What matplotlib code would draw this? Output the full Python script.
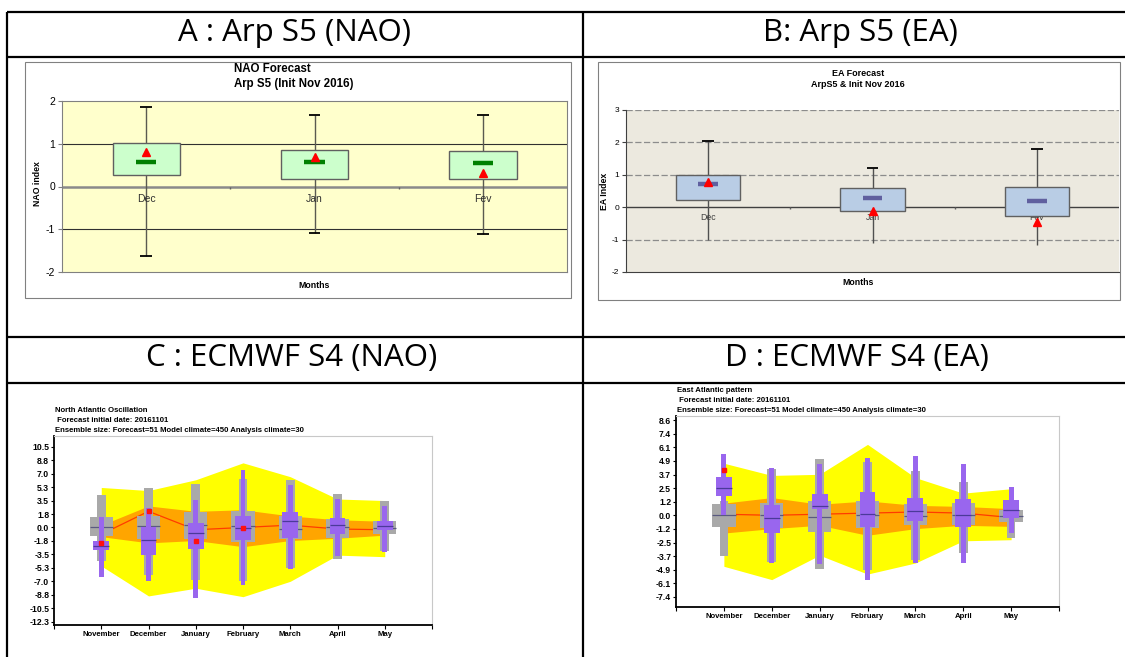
import numpy as np
import matplotlib
matplotlib.use('Agg')
import matplotlib.pyplot as plt
from matplotlib.patches import Rectangle

plt.rcParams['axes.unicode_minus'] = False

# ---------------- data ----------------
# Arpege S5 box plots (panels A and B)
months_arp = ['Dec', 'Jan', 'Fev']

nao_arp_lo = [-1.63, -1.08, -1.10]
nao_arp_q1 = [0.27, 0.17, 0.17]
nao_arp_med = [0.58, 0.57, 0.55]
nao_arp_q3 = [1.02, 0.85, 0.83]
nao_arp_hi = [1.85, 1.68, 1.67]
nao_arp_obs = [0.80, 0.70, 0.32]

ea_arp_lo = [-1.00, -1.10, -1.17]
ea_arp_q1 = [0.22, -0.12, -0.28]
ea_arp_med = [0.72, 0.29, 0.18]
ea_arp_q3 = [1.00, 0.60, 0.63]
ea_arp_hi = [2.05, 1.22, 1.80]
ea_arp_obs = [0.77, -0.12, -0.47]

# ECMWF S4 climagrams (panels C and D)
months_ec = ['November', 'December', 'January', 'February', 'March', 'April', 'May']

nao_yel_hi = [5.2, 4.8, 6.2, 8.4, 6.6, 3.7, 3.5]
nao_yel_lo = [-5.0, -8.9, -7.9, -9.0, -7.0, -3.6, -3.8]
nao_org_hi = [0.3, 2.8, 2.1, 2.3, 1.5, 1.0, 0.8]
nao_org_lo = [-1.2, -2.0, -1.7, -2.5, -1.7, -1.4, -1.0]
nao_clim_med = [-0.9, 2.1, -0.3, 0.0, 0.3, -0.2, -0.3]
nao_mod_lo = [-4.42, -6.15, -6.8, -7.0, -5.3, -4.07, -3.03]
nao_mod_q1 = [-1.17, -1.5, -1.47, -1.95, -1.52, -1.39, -0.87]
nao_mod_med = [0.0, 0.17, 0.35, 0.2, -0.22, 0.0, -0.09]
nao_mod_q3 = [1.3, 1.52, 1.95, 2.2, 1.52, 1.13, 0.78]
nao_mod_hi = [4.24, 5.11, 5.67, 6.28, 6.19, 4.37, 3.46]
nao_fc_lo = [-6.5, -7.0, -9.18, -7.45, -5.37, -3.77, -3.2]
nao_fc_q1 = [-2.9, -3.55, -2.8, -1.6, -1.39, -0.87, -0.39]
nao_fc_med = [-2.38, -1.6, -0.74, -0.09, 0.78, 0.3, 0.22]
nao_fc_q3 = [-1.73, 0.04, 0.56, 1.43, 1.95, 1.21, 0.78]
nao_fc_hi = [1.34, 2.51, 3.6, 7.5, 5.46, 3.68, 2.8]
nao_obs = [-1.99, 2.08, -1.82, -0.09, np.nan, np.nan, np.nan]
nao_ticks = [10.5, 8.75, 7.0, 5.25, 3.5, 1.75, 0.0, -1.75, -3.5, -5.25, -7.0, -8.75, -10.5, -12.25]
nao_tick_labels = ['10.5', '8.8', '7.0', '5.3', '3.5', '1.8', '0.0', '-1.8', '-3.5', '-5.3',
                   '-7.0', '-8.8', '-10.5', '-12.3']

ea_yel_hi = [4.7, 3.6, 3.7, 6.4, 3.4, 2.0, 2.4]
ea_yel_lo = [-4.6, -5.8, -3.6, -5.3, -4.3, -2.3, -2.2]
ea_org_hi = [1.1, 1.6, 1.0, 1.3, 0.9, 0.8, 0.6]
ea_org_lo = [-1.6, -1.2, -0.9, -1.8, -1.2, -0.9, -1.0]
ea_clim_med = [0.1, 0.0, 0.1, 0.2, 0.3, 0.2, -0.2]
ea_mod_lo = [-3.67, -4.2, -4.87, -4.93, -4.0, -3.37, -2.08]
ea_mod_q1 = [-1.02, -1.17, -1.47, -1.17, -0.87, -0.87, -0.63]
ea_mod_med = [0.0, 0.0, -0.18, 0.03, -0.06, 0.0, -0.06]
ea_mod_q3 = [0.99, 1.14, 1.32, 1.29, 0.99, 1.08, 0.48]
ea_mod_hi = [1.3, 4.2, 5.05, 4.84, 4.0, 3.04, 1.38]
ea_fc_lo = [0.03, -4.33, -4.39, -5.83, -4.33, -4.33, -1.56]
ea_fc_q1 = [1.77, -1.56, 0.54, -1.02, -0.48, -1.08, -0.27]
ea_fc_med = [2.5, -0.21, 0.87, 0.09, 0.39, 0.0, 0.48]
ea_fc_q3 = [3.49, 0.93, 1.92, 2.13, 1.59, 1.44, 1.38]
ea_fc_hi = [5.53, 4.24, 4.6, 5.14, 5.35, 4.6, 2.59]
ea_obs = [4.05, np.nan, np.nan, np.nan, np.nan, np.nan, np.nan]
ea_ticks = [8.5925, 7.365, 6.1375, 4.91, 3.6825, 2.455, 1.2275, 0.0, -1.2275, -2.455,
            -3.6825, -4.91, -6.1375, -7.365]
ea_tick_labels = ['8.6', '7.4', '6.1', '4.9', '3.7', '2.5', '1.2', '0.0', '-1.2', '-2.5',
                  '-3.7', '-4.9', '-6.1', '-7.4']

ens_text = 'Ensemble size: Forecast=51 Model climate=450 Analysis climate=30'

# ---------------- layout (pixel based) ----------------
W, H = 1125, 657
fig = plt.figure(figsize=(W / 100, H / 100), dpi=100)
SANS = 'Liberation Sans'


def px_axes(x0, y0, x1, y1):
    return fig.add_axes([x0 / W, 1 - y1 / H, (x1 - x0) / W, (y1 - y0) / H])


bg = px_axes(0, 0, W, H)
bg.set_xlim(0, W)
bg.set_ylim(H, 0)
bg.axis('off')

# table grid
bg.hlines([12, 57, 337, 383], 7, W, color='black', lw=1.6)
bg.vlines([7, 583], 12, H, color='black', lw=1.6)

hdr = dict(ha='center', va='center', fontsize=22.5, family='Open Sans')
bg.text(295, 33, 'A : Arp S5 (NAO)', **hdr)
bg.text(860, 33, 'B: Arp S5 (EA)', **hdr)
bg.text(292, 358, 'C : ECMWF S4 (NAO)', **hdr)
bg.text(857, 358, 'D : ECMWF S4 (EA)', **hdr)

# Excel chart frames
bg.add_patch(Rectangle((25, 62), 546, 236, fill=False, ec='#808080', lw=0.8))
bg.add_patch(Rectangle((598, 62), 522, 238, fill=False, ec='#808080', lw=0.8))


def draw_arp(ax, lo, q1, med, q3, hi, obs, box_col, med_col, box_w, med_w, caps_low, wcol):
    x = np.arange(len(lo))
    lo, q1, med, q3, hi = map(np.asarray, (lo, q1, med, q3, hi))
    ax.vlines(x, lo, hi, color=wcol, lw=1.0, zorder=3)
    ax.hlines(hi, x - 0.035, x + 0.035, color='black', lw=1.3, zorder=3)
    if caps_low:
        ax.hlines(lo, x - 0.035, x + 0.035, color='black', lw=1.3, zorder=3)
    ax.bar(x, q3 - q1, bottom=q1, width=box_w, color=box_col, edgecolor='#606060',
           lw=1.0, zorder=4)
    ax.hlines(med, x - med_w, x + med_w, color=med_col, lw=3.2, zorder=5)
    ax.plot(x, obs, ls='none', marker='^', color='red', ms=5.5, zorder=6)
    ax.set_xlim(-0.5, len(lo) - 0.5)
    ax.set_xticks([])
    # category ticks on the zero line
    ax.vlines(x[:-1] + 0.5, 0, -0.07, color='#606060', lw=1.0, zorder=2)


# ---------------- panel A ----------------
axA = px_axes(62, 101, 567, 272)
axA.set_facecolor('#FFFFCC')
for s in axA.spines.values():
    s.set_color('#808080')
axA.set_ylim(-2, 2)
axA.set_yticks([-2, -1, 0, 1, 2])
axA.tick_params(axis='y', labelsize=7.5, length=3, color='#808080', pad=2)
for lab in axA.get_yticklabels():
    lab.set_family(SANS)
axA.axhline(1, color='#303030', lw=0.8, zorder=1)
axA.axhline(-1, color='#303030', lw=0.8, zorder=1)
axA.axhline(0, color='#8a8a8a', lw=1.8, zorder=1)
draw_arp(axA, nao_arp_lo, nao_arp_q1, nao_arp_med, nao_arp_q3, nao_arp_hi, nao_arp_obs,
         '#CCFFCC', '#008000', 0.4, 0.06, True, '#5a5a50')
for i, m in enumerate(months_arp):
    axA.annotate(m, (i, 0), xytext=(0, -5.5), textcoords='offset points', ha='center',
                 va='top', fontsize=7.5, family=SANS, color='#303030')
axA.text(0.5, -0.078, 'Months', transform=axA.transAxes, ha='center', va='center',
         fontsize=6.3, fontweight='bold', family=SANS)
axA.text(-0.048, 0.52, 'NAO index', transform=axA.transAxes, rotation=90, ha='center',
         va='center', fontsize=6.3, fontweight='bold', family=SANS)
bg.text(234, 69, 'NAO Forecast', ha='left', va='center', fontsize=8.3,
        fontweight='bold', family=SANS)
bg.text(234, 84, 'Arp S5 (Init Nov 2016)', ha='left', va='center', fontsize=8.3,
        fontweight='bold', family=SANS)

# ---------------- panel B ----------------
axB = px_axes(626, 110, 1119, 272)
axB.set_facecolor('#ECE9DF')
axB.spines['top'].set_visible(False)
axB.spines['right'].set_visible(False)
axB.spines['left'].set_color('#404040')
axB.spines['bottom'].set_color('#404040')
axB.set_ylim(-2, 3)
axB.set_yticks([-2, -1, 0, 1, 2, 3])
axB.tick_params(axis='y', labelsize=6, length=3, color='#404040', pad=2)
for lab in axB.get_yticklabels():
    lab.set_family(SANS)
for g in [-1, 1, 2, 3]:
    axB.axhline(g, color='#8c8c8c', lw=0.9, ls=(0, (5, 2)), zorder=1)
axB.axhline(0, color='#404040', lw=1.0, zorder=1)
draw_arp(axB, ea_arp_lo, ea_arp_q1, ea_arp_med, ea_arp_q3, ea_arp_hi, ea_arp_obs,
         '#B9CDE5', '#60609F', 0.39, 0.06, False, '#505050')
for i, m in enumerate(months_arp):
    axB.annotate(m, (i, 0), xytext=(0, -4), textcoords='offset points', ha='center',
                 va='top', fontsize=6.3, family=SANS, color='#404040')
axB.text(0.47, -0.062, 'Months', transform=axB.transAxes, ha='center', va='center',
         fontsize=6.3, fontweight='bold', family=SANS)
axB.text(-0.043, 0.5, 'EA Index', transform=axB.transAxes, rotation=90, ha='center',
         va='center', fontsize=6.3, fontweight='bold', family=SANS)
bg.text(858, 73.5, 'EA Forecast', ha='center', va='center', fontsize=6.5,
        fontweight='bold', family=SANS)
bg.text(858, 84.5, 'ArpS5 & Init Nov 2016', ha='center', va='center', fontsize=6.5,
        fontweight='bold', family=SANS)


# ---------------- panels C and D ----------------
def draw_ecmwf(ax, yel_hi, yel_lo, org_hi, org_lo, clim_med,
               mod_lo, mod_q1, mod_med, mod_q3, mod_hi,
               fc_lo, fc_q1, fc_med, fc_q3, fc_hi, obs, ticks, tick_labels, ylim):
    x = np.arange(1, len(months_ec) + 1)
    arr = lambda a: np.asarray(a, dtype=float)
    ax.fill_between(x, arr(yel_lo), arr(yel_hi), color='#FFFF00', lw=0, zorder=1)
    ax.fill_between(x, arr(org_lo), arr(org_hi), color='#FFA500', lw=0, zorder=2)
    ax.plot(x, clim_med, color='#FF3B00', lw=0.9, zorder=3)
    # model climate (grey)
    ax.bar(x, arr(mod_hi) - arr(mod_lo), bottom=mod_lo, width=0.18, color='#A9A9A9',
           lw=0, zorder=4)
    ax.bar(x, arr(mod_q3) - arr(mod_q1), bottom=mod_q1, width=0.49, color='#A9A9A9',
           lw=0, zorder=4)
    ax.hlines(mod_med, x - 0.245, x + 0.245, color='#5a5a80', lw=0.9, zorder=5)
    # forecast (purple)
    ax.bar(x, arr(fc_hi) - arr(fc_lo), bottom=fc_lo, width=0.1, color='#9966EE',
           lw=0, zorder=6)
    ax.bar(x, arr(fc_q3) - arr(fc_q1), bottom=fc_q1, width=0.33, color='#9966EE',
           lw=0, zorder=6)
    ax.hlines(fc_med, x - 0.165, x + 0.165, color='#4B3A9A', lw=0.9, zorder=7)
    ax.plot(x, obs, ls='none', marker='s', ms=2.2, color='#FF1010', zorder=8)

    ax.set_xlim(0, len(months_ec) + 1)
    ax.set_ylim(*ylim)
    ax.set_xticks(np.arange(0, len(months_ec) + 2))
    ax.set_xticklabels([''] + months_ec + [''])
    ax.set_yticks(ticks)
    ax.set_yticklabels(tick_labels)
    ax.tick_params(axis='x', length=3, width=0.8, pad=1.5, labelsize=5.6)
    ax.tick_params(axis='y', length=2.5, width=0.8, pad=1, labelsize=6.2)
    for lab in ax.get_xticklabels() + ax.get_yticklabels():
        lab.set_family(SANS)
        lab.set_fontweight('bold')
    ax.spines['left'].set_linewidth(1.3)
    ax.spines['bottom'].set_linewidth(1.3)
    ax.spines['top'].set_color('#C8C8C8')
    ax.spines['right'].set_color('#C8C8C8')


axC = px_axes(54, 436, 432, 625)
draw_ecmwf(axC, nao_yel_hi, nao_yel_lo, nao_org_hi, nao_org_lo, nao_clim_med,
           nao_mod_lo, nao_mod_q1, nao_mod_med, nao_mod_q3, nao_mod_hi,
           nao_fc_lo, nao_fc_q1, nao_fc_med, nao_fc_q3, nao_fc_hi, nao_obs,
           nao_ticks, nao_tick_labels, (-12.68, 11.89))
ttl = dict(ha='left', va='center', fontsize=5.6, fontweight='bold', family=SANS)
bg.text(55, 410, 'North Atlantic Oscillation', **ttl)
bg.text(55, 420, ' Forecast initial date: 20161101', **ttl)
bg.text(55, 431, ens_text, **ttl)

axD = px_axes(676, 416, 1059, 607)
draw_ecmwf(axD, ea_yel_hi, ea_yel_lo, ea_org_hi, ea_org_lo, ea_clim_med,
           ea_mod_lo, ea_mod_q1, ea_mod_med, ea_mod_q3, ea_mod_hi,
           ea_fc_lo, ea_fc_q1, ea_fc_med, ea_fc_q3, ea_fc_hi, ea_obs,
           ea_ticks, ea_tick_labels, (-8.27, 8.96))
bg.text(677, 391, 'East Atlantic pattern', **ttl)
bg.text(677, 401, ' Forecast initial date: 20161101', **ttl)
bg.text(677, 411, ens_text, **ttl)

fig.savefig('out.png', dpi=100)
